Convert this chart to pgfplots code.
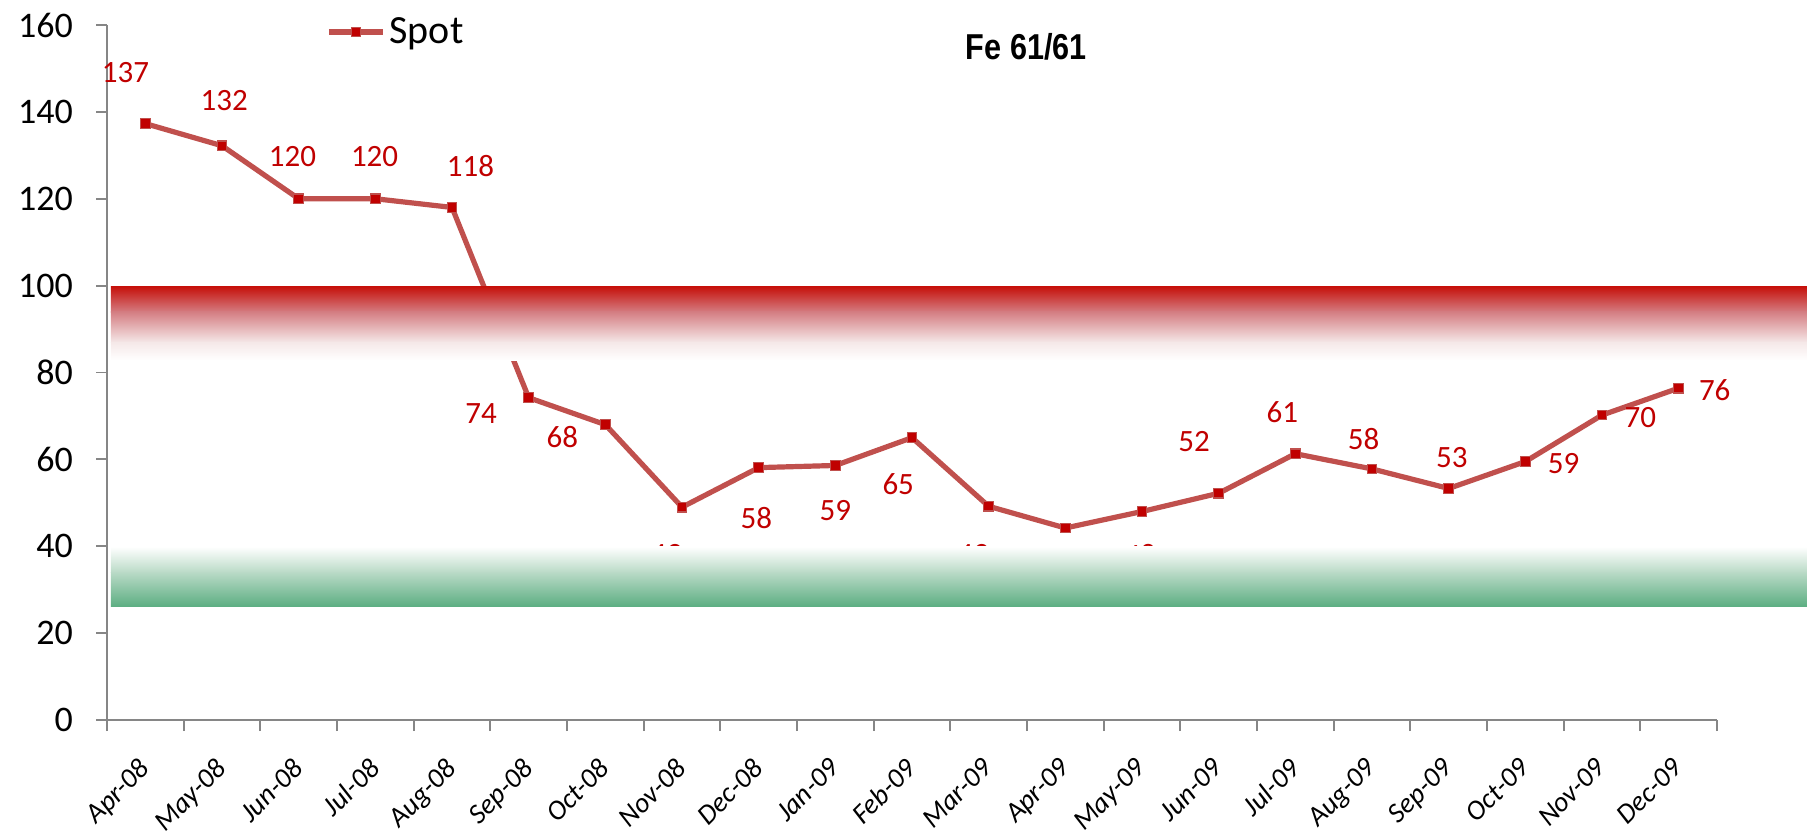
\documentclass[border=0pt]{standalone}
\usepackage{pgfplots}
\pgfplotsset{compat=1.18}
\usepackage{fontspec}
\setmainfont{Carlito}
\newfontfamily\arialfont[FakeStretch=0.85]{Liberation Sans}
\definecolor{linecol}{RGB}{192,80,77}
\definecolor{markcol}{RGB}{192,0,0}
\definecolor{labcol}{RGB}{192,0,0}
\definecolor{bandred}{RGB}{198,18,12}
\definecolor{bandpink}{RGB}{212,125,130}
\definecolor{bandpale}{RGB}{245,232,232}
\definecolor{bandgreen}{RGB}{92,174,130}
\definecolor{bandmint}{RGB}{185,218,198}
\definecolor{axgray}{RGB}{134,134,134}

\pgfplotstableread{
x y
0 137.3
1 132.2
2 120
3 120
4 118
5 74.2
6 68
7 49
8 58.1
9 58.6
10 65
11 49.2
12 44.2
13 48
14 52.2
15 61.3
16 57.8
17 53.3
18 59.5
19 70.2
20 76.4
}\spotdata

\pgfplotstableread{
x y label
-0.26 149.0 137
1.03 142.7 132
1.92 129.7 120
2.99 129.7 120
4.24 127.6 118
4.38 70.6 74
5.44 65.2 68
6.80 38.0 49
7.97 46.4 58
9.00 48.3 59
9.82 54.4 65
10.80 38.0 49
11.90 33.0 44
12.98 38.0 48
13.68 64.2 52
14.83 70.8 61
15.89 64.7 58
17.04 60.4 53
18.50 59.1 59
19.50 69.7 70
20.47 76.0 76
}\labdata

\begin{document}
\begin{tikzpicture}
\begin{axis}[
  set layers,
  at={(0,0)}, anchor=south west,
  scale only axis, width=805pt, height=347.5pt,
  xmin=-0.5, xmax=20.5, ymin=0, ymax=160,
  axis lines=left,
  axis line style={-, draw=axgray, line width=0.9pt},
  tick align=outside,
  major tick length=0pt,
  minor tick length=5.5pt,
  tick style={draw=axgray, line width=0.9pt},
  minor tick style={draw=axgray, line width=0.9pt},
  ytick={0,20,...,160},
  minor ytick={0,20,...,160},
  /pgf/number format/assume math mode=true,
  yticklabel style={font=\fontsize{18}{18}\selectfont, xshift=-13.5pt},
  xtick={0,1,...,20},
  minor xtick={-0.5,0.5,...,20.5},
  xticklabels={Apr-08,May-08,Jun-08,Jul-08,Aug-08,Sep-08,Oct-08,Nov-08,Dec-08,Jan-09,Feb-09,Mar-09,Apr-09,May-09,Jun-09,Jul-09,Aug-09,Sep-09,Oct-09,Nov-09,Dec-09},
  xticklabel style={font=\fontsize{14}{14}\selectfont\itshape, xshift=-4pt, yshift=-13.5pt, rotate=45, anchor=north east},
  clip=false,
  legend style={at={(rel axis cs:0.136,0.99)}, anchor=west, draw=none, fill=none, inner sep=0pt, font=\fontsize{20}{22}\selectfont},
  legend image code/.code={\draw[#1, mark repeat=2, mark phase=2] plot coordinates {(0pt,0pt) (13.5pt,0pt) (27pt,0pt)};},
]
\addplot[color=linecol, line width=2.6pt, mark=square*, mark size=2.4pt,
  mark options={fill=markcol, draw=linecol, line width=0.6pt}] table[x=x,y=y] {\spotdata};
\addlegendentry{Spot}
\addplot[forget plot, draw=none, mark=none, nodes near coords, point meta=explicit symbolic,
  nodes near coords style={anchor=center, text=labcol, font=\fontsize{15.5}{16}\selectfont}]
  table[x=x,y=y,meta=label] {\labdata};
% bands
\begin{pgfonlayer}{axis foreground}
\shade[top color=bandred, bottom color=bandpink] (axis cs:-0.45,99.75) rectangle (axis cs:21.7,93.9);
\shade[top color=bandpink, bottom color=bandpale] (axis cs:-0.45,94) rectangle (axis cs:21.7,86.9);
\shade[top color=bandpale, bottom color=white] (axis cs:-0.45,87) rectangle (axis cs:21.7,82.8);
\shade[top color=white, bottom color=bandmint] (axis cs:-0.45,39.9) rectangle (axis cs:21.7,33.9);
\shade[top color=bandmint, bottom color=bandgreen] (axis cs:-0.45,34) rectangle (axis cs:21.7,26.1);
\end{pgfonlayer}
\node[font=\arialfont\bfseries\fontsize{18}{20}\selectfont] at (rel axis cs:0.571,0.968) {Fe 61/61};
\end{axis}
\pgfresetboundingbox
\path[use as bounding box] (-53.5pt,-58pt) rectangle (850pt,360pt);
\end{tikzpicture}
\end{document}
